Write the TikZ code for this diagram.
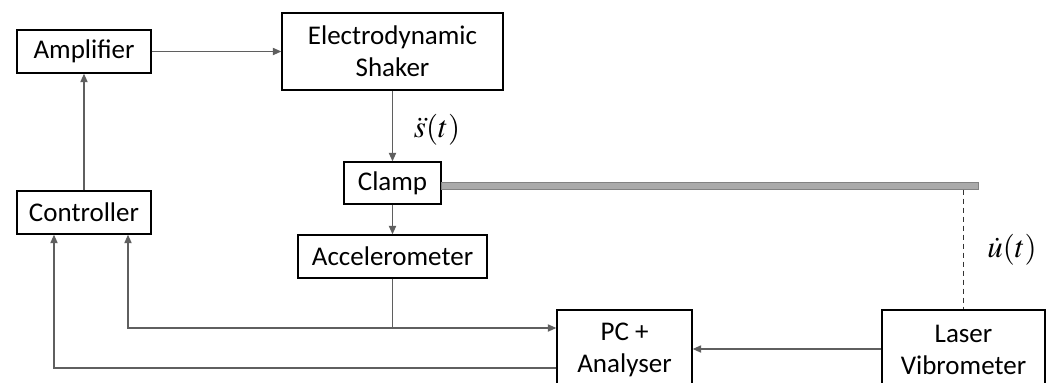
\documentclass[tikz,border=0pt]{standalone}
\usepackage{mathptmx}
\usepackage[no-math]{fontspec}
\setmainfont{Carlito}
\usetikzlibrary{arrows.meta}
\definecolor{wire}{RGB}{95,95,95}
\definecolor{beamfill}{RGB}{170,170,170}
\definecolor{beamline}{RGB}{130,130,130}

\begin{document}
\begin{tikzpicture}[x=0.5pt,y=-0.5pt,
    block/.style={draw=black,line width=0.7pt,inner sep=0pt,align=center,
        font=\fontsize{13.5}{16}\selectfont},
    link/.style={draw=wire,line width=0.6pt,-{Triangle[length=4.2pt,width=3.6pt]}},
    beam/.style={draw=beamline,fill=beamfill,line width=0.5pt,inner sep=0pt,
        minimum width=268.5pt,minimum height=3.5pt,anchor=west},
    sig/.style={font=\fontsize{15.5}{18}\selectfont}]
    \useasboundingbox (0,0) rectangle (1051,382);
    \clip (0,0) rectangle (1051,382);
            \node[block,minimum width=67pt,minimum height=21.5pt] (amp) at (84,51.5) {Amplifier};
            \node[block,minimum width=110.5pt,minimum height=38.5pt] (shaker) at (392.5,51.5) {Electrodynamic\\Shaker};
            \node[block,minimum width=48.5pt,minimum height=21pt] (clamp) at (392.5,183) {Clamp};
            \node[block,minimum width=94.5pt,minimum height=21.5pt] (accel) at (392.5,256.5) {Accelerometer};
            \node[block,minimum width=67pt,minimum height=21.5pt] (ctrl) at (84,212.5) {Controller};
            \node[block,minimum width=67.5pt,minimum height=40pt] (pc) at (624.5,350) {PC +\\Analyser};
            \node[block,minimum width=81.5pt,minimum height=40pt] (laser) at (963.5,350) {Laser\\Vibrometer};
            \node[beam] (bar) at (441,185.5) {};
            \node[sig] (sdd) at (437,130) {$\ddot{s}(t)$};
            \node[sig] (ud) at (1012,250) {$\dot{u}(t)$};
            \coordinate (split) at (accel.south |- 0,328);
            \draw[link] (amp) -- (shaker);
            \draw[link] (ctrl) -- (amp);
            \draw[link] (shaker) -- (clamp);
            \draw[link] (clamp) -- (accel);
            \draw[link] (accel.south) -- (split) -| ([xshift=22pt]ctrl.south);
            \draw[link] (split) -- (pc.west |- split);
            \draw[link] (pc.west |- 0,368) -| ([xshift=-15pt]ctrl.south);
            \draw[link] (laser.west |- 0,349) -- (pc.east |- 0,349);
            \draw[black!80,line width=0.6pt,dash pattern=on 2.5pt off 2pt] (laser.north |- bar.south) -- (laser.north);
        \end{tikzpicture}
\end{document}
